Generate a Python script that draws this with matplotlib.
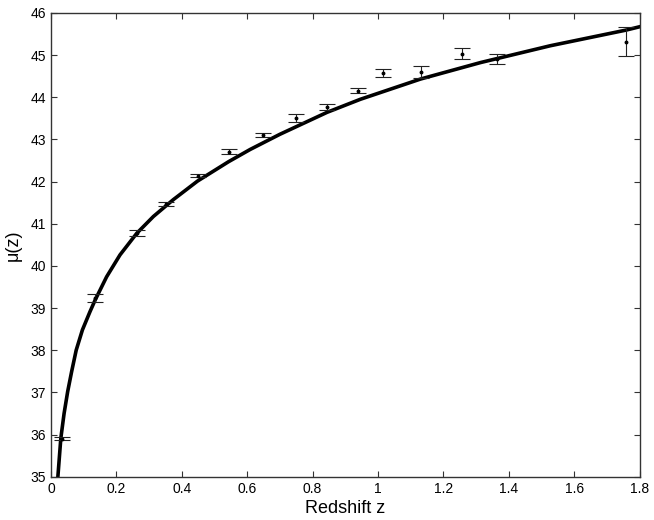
import numpy as np
import matplotlib
matplotlib.use("Agg")
import matplotlib.pyplot as plt

plt.rcParams['font.family'] = ['Liberation Sans', 'DejaVu Sans']

# supernova binned data: redshift, distance modulus, error
z_data = [0.035, 0.135, 0.264, 0.352, 0.448, 0.543, 0.647, 0.75, 0.844, 0.938,
          1.014, 1.13, 1.257, 1.363, 1.758]
mu_data = [35.90, 39.24, 40.78, 41.46, 42.14, 42.71, 43.10, 43.51, 43.76, 44.15,
           44.57, 44.60, 45.03, 44.90, 45.32]
mu_err = [0.03, 0.09, 0.07, 0.05, 0.04, 0.06, 0.05, 0.09, 0.07, 0.06,
          0.10, 0.15, 0.125, 0.125, 0.35]

# model curve
z_model = [0.021, 0.030, 0.040, 0.051, 0.063, 0.077, 0.096, 0.119, 0.135, 0.170,
           0.211, 0.262, 0.313, 0.374, 0.448, 0.543, 0.609, 0.70, 0.844, 0.946,
           1.13, 1.313, 1.527, 1.758, 1.8]
mu_model = [35.0, 35.91, 36.50, 37.02, 37.49, 38.00, 38.48, 38.91, 39.19, 39.74,
            40.26, 40.77, 41.17, 41.57, 42.01, 42.47, 42.76, 43.12, 43.64, 43.95,
            44.43, 44.82, 45.22, 45.59, 45.67]

fig = plt.figure(figsize=(6.54, 5.2), dpi=100)
ax = fig.add_axes([0.078, 0.0833, 0.9, 0.892])

ax.plot(z_model, mu_model, color='black', linewidth=2.6, solid_joinstyle='round')
ax.errorbar(z_data, mu_data, yerr=mu_err, fmt='o', color='black', markersize=1.8,
            ecolor='#222222', elinewidth=0.8, capsize=5.5, capthick=0.8)

ax.set_xlim(0, 1.8)
ax.set_ylim(35, 46)
ax.set_xticks(np.arange(0, 1.81, 0.2))
ax.set_xticklabels(['0', '0.2', '0.4', '0.6', '0.8', '1', '1.2', '1.4', '1.6', '1.8'])
ax.set_yticks(np.arange(35, 47, 1))
ax.tick_params(direction='in', length=4, width=0.8, top=True, right=True,
               labelsize=10, colors='#333333', labelcolor='black')
for s in ax.spines.values():
    s.set_color('#333333')
    s.set_linewidth(1.0)

ax.set_xlabel('Redshift z', fontsize=13, labelpad=3)
ax.set_ylabel('\u03bc(z)', fontsize=13, labelpad=6)

fig.savefig('out.png', dpi=100)
